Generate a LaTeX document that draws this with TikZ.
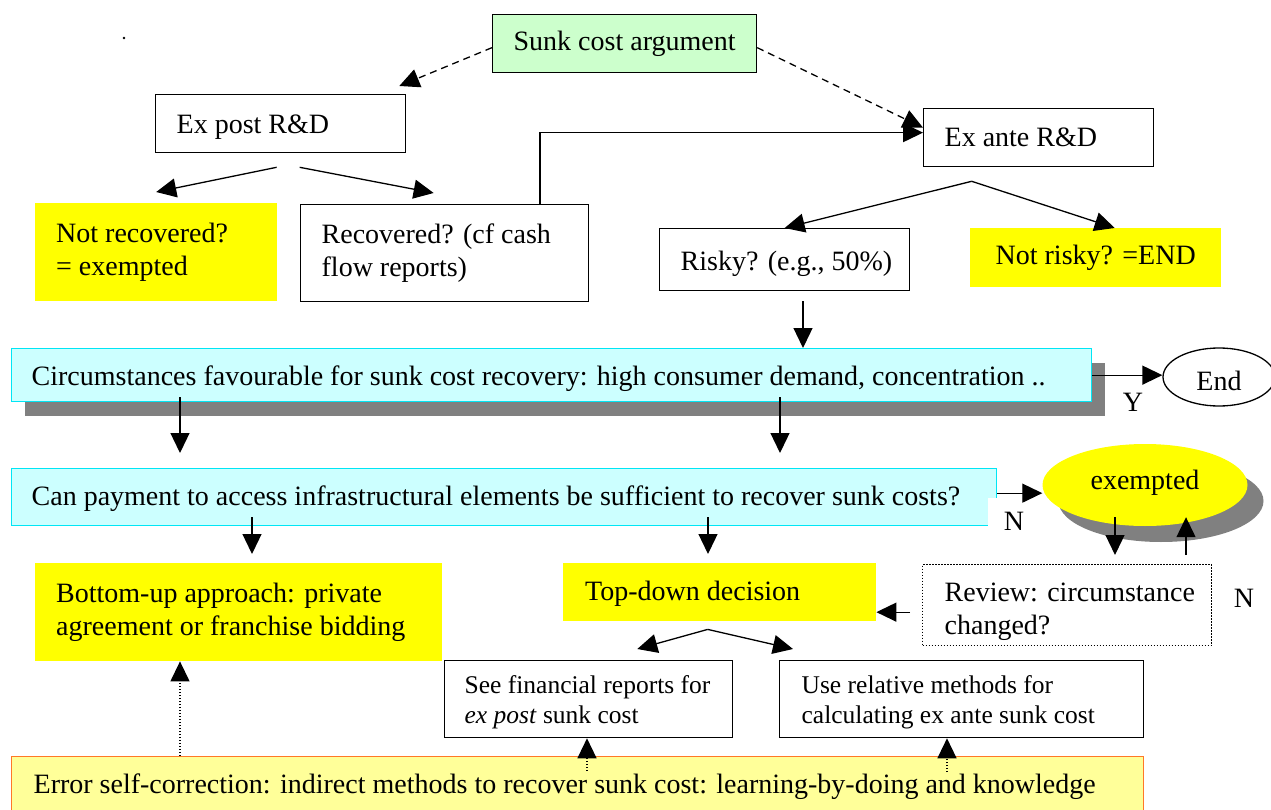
\documentclass[tikz,border=0pt]{standalone}
\usepackage{fontspec}
\setmainfont{Liberation Serif}
\usetikzlibrary{arrows.meta,shapes.geometric,calc}
\definecolor{lgreen}{HTML}{CCFFCC}
\definecolor{lcyan}{HTML}{CCFFFF}
\definecolor{bcyan}{RGB}{0,230,245}
\definecolor{ylw}{HTML}{FFFF00}
\definecolor{lylw}{HTML}{FFFF99}
\definecolor{orng}{RGB}{255,120,40}
\definecolor{shad}{HTML}{808080}
\newcommand\fw[2]{\makebox[#1][l]{#2}}
\newcommand\sv[1]{\rule{0pt}{#1}}
\begin{document}
\begin{tikzpicture}[x=1pt,y=-1pt,
  font=\fontsize{28}{33}\selectfont,
  bx/.style={draw=black, line width=1.3pt, anchor=north west, inner xsep=21pt, inner ysep=0pt, align=left},
  ybx/.style={fill=ylw, anchor=north west, inner xsep=21pt, inner ysep=0pt, align=left},
  cbx/.style={draw=bcyan, fill=lcyan, line width=1.3pt, anchor=north west, inner xsep=20pt, inner ysep=0pt, align=left},
  smallfont/.style={font=\fontsize{25.5}{30}\selectfont},
  arr/.style={line width=1.3pt, -{Triangle[length=20pt,width=19pt]}},
  darr/.style={arr, dash pattern=on 7pt off 5pt},
  parr/.style={arr, dash pattern=on 1.3pt off 1.7pt},
  lbl/.style={inner sep=0pt}
]
\clip (0,0) rectangle (1271,810);
\coordinate (x180) at (180,0);
\coordinate (x252) at (252,0);
\coordinate (x540) at (540,0);
\coordinate (x587) at (587,0);
\coordinate (x708) at (708,0);
\coordinate (x780) at (780,0);
\coordinate (x803) at (803,0);
\coordinate (x947) at (947,0);
\coordinate (x1115) at (1115,0);
\coordinate (x1186) at (1186,0);

\fill (124,38) circle (1.3pt);

% top part
\node[bx, fill=lgreen, minimum width=263pt, minimum height=58pt, align=center] (sunk) at (492,14) {Sunk cost argument};
\node[bx, minimum height=58pt] (expost) at (155,94) {\sv{25pt}\fw{208pt}{Ex post R\&D}};
\node[bx, minimum height=58pt] (exante) at (923,108) {\fw{188pt}{Ex ante R\&D}};
\node[ybx, minimum height=98pt] (notrec) at (35,203) {\fw{200pt}{Not recovered?}\\= exempted};
\node[bx, minimum height=97pt] (rec) at (300,204) {\fw{246pt}{Recovered? (cf cash}\\flow reports)};
\node[bx, minimum height=62pt] (risky) at (659,228) {\sv{28pt}\fw{208pt}{Risky? (e.g., 50\%)}};
\node[ybx, minimum width=251pt, minimum height=59pt, align=center] (notrisky) at (970,228) {Not risky? =END};

% circumstances
\fill[shad] (25,363) rectangle (1105,416);
\node[cbx, minimum height=53pt] (circ) at (11,348) {\sv{27pt}\fw{1040pt}{Circumstances favourable for sunk cost recovery: high consumer demand, concentration ..}};
\node[ellipse, draw, line width=1.3pt, minimum width=112pt, minimum height=58pt, inner sep=0pt, text height=26pt, text depth=0pt] (endn) at (1219,377) {End};
\node[lbl] (ylab) at (1133,402) {Y};

% can payment
\node[cbx, minimum height=57pt] (can) at (11,468) {\sv{23.5pt}\fw{945pt}{Can payment to access infrastructural elements be sufficient to recover sunk costs?}};
\fill[shad] (1161,501) ellipse [x radius=102.5pt, y radius=41pt];
\node[ellipse, fill=ylw, minimum width=205pt, minimum height=82pt, inner sep=0pt, text height=19pt, text depth=11pt] (exempt) at (1145,485) {exempted};
\node[fill=white, minimum width=52pt, minimum height=46pt, inner sep=0pt] (nlab1) at (1014,521) {N};

% lower
\node[ybx, minimum height=98pt] (bottomup) at (35,563) {\fw{365pt}{Bottom-up approach: private}\\agreement or franchise bidding};
\node[ybx, inner xsep=22pt, minimum height=58pt] (topdown) at (563,563) {\sv{23pt}\fw{269pt}{Top-down decision}};
\node[bx, dash pattern=on 1.4pt off 1.6pt, inner xsep=22pt, minimum height=81pt] (review) at (922,564) {\sv{32pt}\fw{245pt}{Review: circumstance}\\changed?};
\node[lbl] (nlab2) at (1244,598) {N};
\node[bx, smallfont, inner xsep=20pt, minimum height=77pt] (seefin) at (444,660) {\sv{24.5pt}\fw{248pt}{See financial reports for}\\\textit{ex post} sunk cost};
\node[bx, smallfont, inner xsep=22pt, minimum height=77pt] (userel) at (779,660) {\sv{24.5pt}\fw{320pt}{Use relative methods for}\\calculating ex ante sunk cost};
\node[draw=orng, fill=lylw, line width=1.3pt, anchor=north west, inner xsep=22pt, inner ysep=0pt, minimum height=57pt] (err) at (11,756) {\sv{23.5pt}\fw{1088pt}{Error self-correction: indirect methods to recover sunk cost: learning-by-doing and knowledge}};

% connectors
\draw[darr] ([yshift=-4pt]sunk.west) -- ([xshift=-7pt,yshift=8pt]expost.north east);
\draw[darr] ([yshift=-4pt]sunk.east) -- ([yshift=10pt]exante.west);
\draw[arr] ([xshift=-4pt,yshift=-14pt]expost.south) -- ([yshift=11pt]notrec.north);
\draw[arr] ([xshift=19pt,yshift=-14pt]expost.south) -- ([xshift=-11pt,yshift=11pt]rec.north);
\draw[arr] (x540 |- rec.north) |- ([yshift=5pt]exante.west);
\coordinate (apexA) at ([xshift=-67pt,yshift=-14pt]exante.south);
\draw[arr] (apexA) -- (risky.north);
\draw[arr] (apexA) -- ([xshift=19pt]notrisky.north);
\draw[arr] ($(risky.south -| x803)+(0,10)$) -- (circ.north -| x803);
\draw[arr] (circ.east) -- (circ.east -| endn.west);
\draw[arr] ($(circ.south -| x180)+(0,-5)$) -- ($(can.north -| x180)+(0,-15)$);
\draw[arr] ($(circ.south -| x780)+(0,-5)$) -- ($(can.north -| x780)+(0,-15)$);
\draw[arr] ([yshift=4pt]can.east) -- ([yshift=4pt]can.east -| exempt.west);
\draw[arr] ($(can.south -| x252)+(0,-9)$) -- ($(bottomup.north -| x252)+(0,-9)$);
\draw[arr] ($(can.south -| x708)+(0,-9)$) -- ($(topdown.north -| x708)+(0,-9)$);
\draw[arr] ($(exempt.south -| x1115)+(0,-9)$) -- ($(review.north -| x1115)+(0,-9)$);
\draw[arr] ($(review.north -| x1186)+(0,-9)$) -- ($(exempt.south -| x1186)+(0,-9)$);
\draw[arr] ([xshift=-12pt,yshift=-7pt]review.west) -- ([yshift=-7pt]review.west -| topdown.east);
\coordinate (apexB) at ([xshift=-12pt,yshift=-8pt]topdown.south);
\draw[arr] (apexB) -- ([xshift=-96pt,yshift=11pt]seefin.north east);
\draw[arr] (apexB) -- ([xshift=14pt,yshift=11pt]userel.north west);
\draw[parr] (err.north -| x180) -- (bottomup.south -| x180);
\draw[parr] ($(err.north -| x587)+(0,15)$) -- (seefin.south -| x587);
\draw[parr] ($(err.north -| x947)+(0,16)$) -- (userel.south -| x947);
\end{tikzpicture}
\end{document}
